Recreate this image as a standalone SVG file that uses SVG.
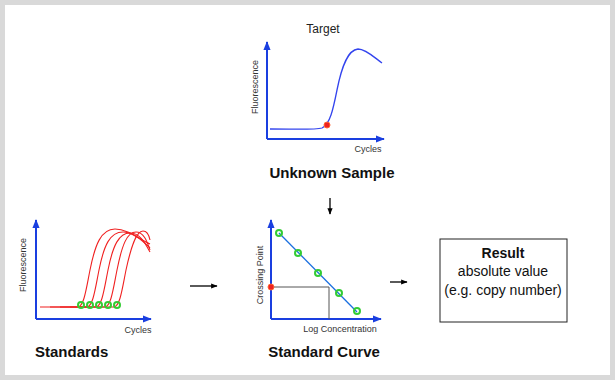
<svg xmlns="http://www.w3.org/2000/svg" width="615" height="380" viewBox="0 0 615 380">
<style>
.ax{stroke:#1a3fe0;stroke-width:2;fill:none}
.sm{font-family:"Liberation Sans",Arial,sans-serif;font-size:9px;fill:#333}
.tg{font-family:"Liberation Sans",Arial,sans-serif;font-size:12px;fill:#222}
.big{font-family:"Liberation Sans",Arial,sans-serif;font-size:15px;font-weight:bold;fill:#111}
.res{font-family:"Liberation Sans",Arial,sans-serif;font-size:14px;fill:#111;text-anchor:middle}
.red{stroke:#f02020;stroke-width:1.1;fill:none}
.gc{stroke:#33cc33;stroke-width:2;fill:none}
.con{stroke:#000;stroke-width:1.3;fill:none}
</style>
<defs>
<marker id="ab" viewBox="0 0 10 10" refX="9" refY="5" markerWidth="4.5" markerHeight="4.5" orient="auto"><path d="M0,1 L10,5 L0,9 Z" fill="#1a3fe0"/></marker>
<marker id="ak" viewBox="0 0 10 10" refX="9" refY="5" markerWidth="5" markerHeight="5" orient="auto"><path d="M0,1 L10,5 L0,9 Z" fill="#000"/></marker>
</defs>
<rect x="0" y="0" width="615" height="380" fill="#d9d9d9"/>
<rect x="5" y="5" width="605" height="370" fill="#fff"/>

<g id="unknown-sample">
<text class="tg" x="323" y="33" text-anchor="middle">Target</text>
<path class="ax" d="M267,139 V42" marker-end="url(#ab)"/>
<path class="ax" d="M267,139 H384" marker-end="url(#ab)"/>
<text class="sm" transform="translate(258,87) rotate(-90)" text-anchor="middle">Fluorescence</text>
<text class="sm" x="368" y="152" text-anchor="middle">Cycles</text>
<path d="M270,129 C295,129 315,130 322,128 C330,124 333,110 337,90 C342,65 348,50 358,49 C366,49 375,58 382,63" stroke="#3344ee" stroke-width="1.3" fill="none"/>
<circle cx="327" cy="125" r="3" fill="#ee2222" stroke="#ff6633" stroke-width="1"/>
<text class="big" x="332" y="178" text-anchor="middle">Unknown Sample</text>
</g>

<g id="standards">
<path class="ax" d="M36,319 V220" marker-end="url(#ab)"/>
<path class="ax" d="M36,319 H151" marker-end="url(#ab)"/>
<text class="sm" transform="translate(26,265) rotate(-90)" text-anchor="middle">Fluorescence</text>
<text class="sm" x="138" y="333" text-anchor="middle">Cycles</text>
<path class="red" d="M40,307 H78 C84,306 86,290 90,270 C95,245 101,229 115,229 C127,229 138,238 150,244"/>
<path class="red" d="M50,307 H87 C93,306 95,290 99,270 C104,245 110,232 123,232 C133,232 142,240 150,248"/>
<path class="red" d="M60,307 H96 C102,306 104,290 108,270 C113,245 119,233 130,233 C140,233 145,243 150,252"/>
<path class="red" d="M70,307 H105 C111,306 113,290 117,270 C122,245 127,232 136,232 C145,232 148,245 150,250"/>
<path class="red" d="M80,307 H114 C120,306 122,290 126,270 C131,247 136,231 143,231 C147,231 149,235 150,240"/>
<g class="gc"><circle cx="81" cy="305" r="3"/><circle cx="90" cy="305" r="3"/><circle cx="99" cy="305" r="3"/><circle cx="108" cy="305" r="3"/><circle cx="117" cy="305" r="3"/></g>
<text class="big" x="35" y="357">Standards</text>
</g>

<g id="standard-curve">
<path class="ax" d="M271,319 V220" marker-end="url(#ab)"/>
<path class="ax" d="M271,319 H381" marker-end="url(#ab)"/>
<text class="sm" transform="translate(263,275) rotate(-90)" text-anchor="middle">Crossing Point</text>
<text class="sm" x="340" y="332" text-anchor="middle">Log Concentration</text>
<path d="M271,287 H329 V319" stroke="#555" stroke-width="1" fill="none"/>
<path d="M279,233 L357,312" stroke="#1a6fe0" stroke-width="1.3"/>
<g class="gc"><circle cx="279" cy="233" r="3"/><circle cx="298" cy="253" r="3"/><circle cx="318" cy="273" r="3"/><circle cx="339" cy="293" r="3"/><circle cx="357" cy="311" r="3"/></g>
<circle cx="271" cy="287" r="3" fill="#ee2222" stroke="#ff6633" stroke-width="1"/>
<text class="big" x="324" y="357" text-anchor="middle">Standard Curve</text>
</g>

<g id="result">
<rect x="440" y="239" width="127" height="83" fill="#fff" stroke="#222" stroke-width="1"/>
<text class="res" x="503" y="258" font-weight="bold">Result</text>
<text class="res" x="503" y="276">absolute value</text>
<text class="res" x="503" y="295">(e.g. copy number)</text>
</g>

<g id="connectors">
<path class="con" d="M190,286 H217" marker-end="url(#ak)"/>
<path class="con" d="M390,282 H407" marker-end="url(#ak)"/>
<path class="con" d="M330,198 V214" marker-end="url(#ak)"/>
</g>
</svg>
